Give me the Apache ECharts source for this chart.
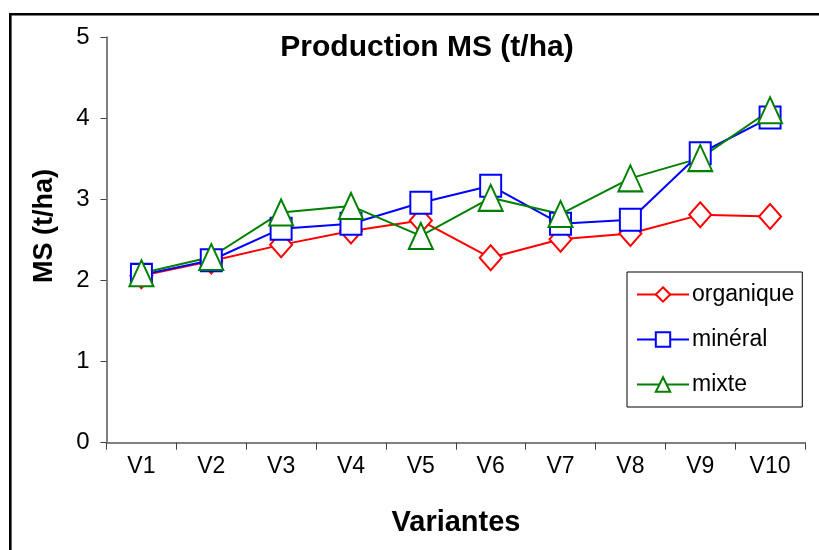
<!DOCTYPE html>
<html>
<head>
<meta charset="utf-8">
<script src="https://cdn.jsdelivr.net/npm/echarts@6/dist/echarts.min.js"></script>
<style>
html,body{margin:0;padding:0;background:#fff;}
#chart{width:819px;height:550px;}
</style>
</head>
<body>
<div id="chart"></div>
<script>
const categories = ['V1','V2','V3','V4','V5','V6','V7','V8','V9','V10'];
const organique = [2.06, 2.24, 2.44, 2.61, 2.74, 2.28, 2.51, 2.58, 2.81, 2.79];
const mineral   = [2.07, 2.25, 2.64, 2.70, 2.96, 3.17, 2.70, 2.75, 3.57, 4.01];
const mixte     = [2.09, 2.29, 2.84, 2.92, 2.55, 3.02, 2.82, 3.26, 3.51, 4.10];
const seriesNames = ['organique', 'minéral', 'mixte'];
const titleText = 'Production MS (t/ha)';
const xTitle = 'Variantes';
const yTitle = 'MS (t/ha)';

const FONT = '"Liberation Sans", Arial, sans-serif';
const chart = echarts.init(document.getElementById('chart'), null, {renderer: 'canvas'});

function mkSeries(name, data, color, symbol, size) {
  return {
    name: name,
    type: 'line',
    data: data,
    symbol: symbol,
    symbolSize: size,
    showAllSymbol: true,
    lineStyle: {color: color, width: 2},
    itemStyle: {color: '#ffffff', borderColor: color, borderWidth: 2},
    emphasis: {disabled: true}
  };
}

chart.setOption({
  animation: false,
  backgroundColor: '#ffffff',
  grid: {left: 106.5, right: 14, top: 37.3, bottom: 107.3, containLabel: false},
  xAxis: {
    type: 'category',
    data: categories,
    boundaryGap: true,
    axisLine: {show: true, lineStyle: {color: '#808080', width: 2}},
    axisTick: {show: true, length: 7, lineStyle: {color: '#404040', width: 1}},
    axisLabel: {color: '#000', fontFamily: FONT, fontSize: 23, margin: 12}
  },
  yAxis: {
    type: 'value',
    min: 0, max: 5, interval: 1,
    splitLine: {show: false},
    axisLine: {show: true, lineStyle: {color: '#808080', width: 2}},
    axisTick: {show: true, length: 6, lineStyle: {color: '#404040', width: 1}},
    axisLabel: {color: '#000', fontFamily: FONT, fontSize: 24, margin: 17}
  },
  legend: {
    orient: 'vertical',
    left: 627, top: 272,
    data: seriesNames,
    selectedMode: false,
    itemWidth: 52, itemHeight: 18, itemGap: 22,
    padding: [11, 8, 11, 9],
    borderColor: '#000', borderWidth: 1,
    backgroundColor: '#fff',
    textStyle: {color: '#000', fontFamily: FONT, fontSize: 23, lineHeight: 23, padding: [0,0,0,-2]}
  },
  graphic: [
    {type: 'rect', shape: {x: 10.3, y: 14.3, width: 900, height: 700}, style: {fill: 'none', stroke: '#000', lineWidth: 2.6}, silent: true},
    {type: 'text', x: 427, y: 48, style: {text: titleText, fontFamily: FONT, fontWeight: 'bold', fontSize: 30, fill: '#000', align: 'center', verticalAlign: 'middle'}},
    {type: 'text', x: 456, y: 523, style: {text: xTitle, fontFamily: FONT, fontWeight: 'bold', fontSize: 29, fill: '#000', align: 'center', verticalAlign: 'middle'}},
    {type: 'text', x: 45, y: 226, rotation: Math.PI / 2, style: {text: yTitle, fontFamily: FONT, fontWeight: 'bold', fontSize: 27, fill: '#000', align: 'center', verticalAlign: 'middle'}}
  ],
  series: [
    mkSeries(seriesNames[0], organique, '#ff0000', 'diamond', [22, 25]),
    mkSeries(seriesNames[1], mineral, '#0000ff', 'rect', [21, 22]),
    mkSeries(seriesNames[2], mixte, '#008000', 'triangle', [24, 26])
  ]
});
</script>
</body>
</html>
